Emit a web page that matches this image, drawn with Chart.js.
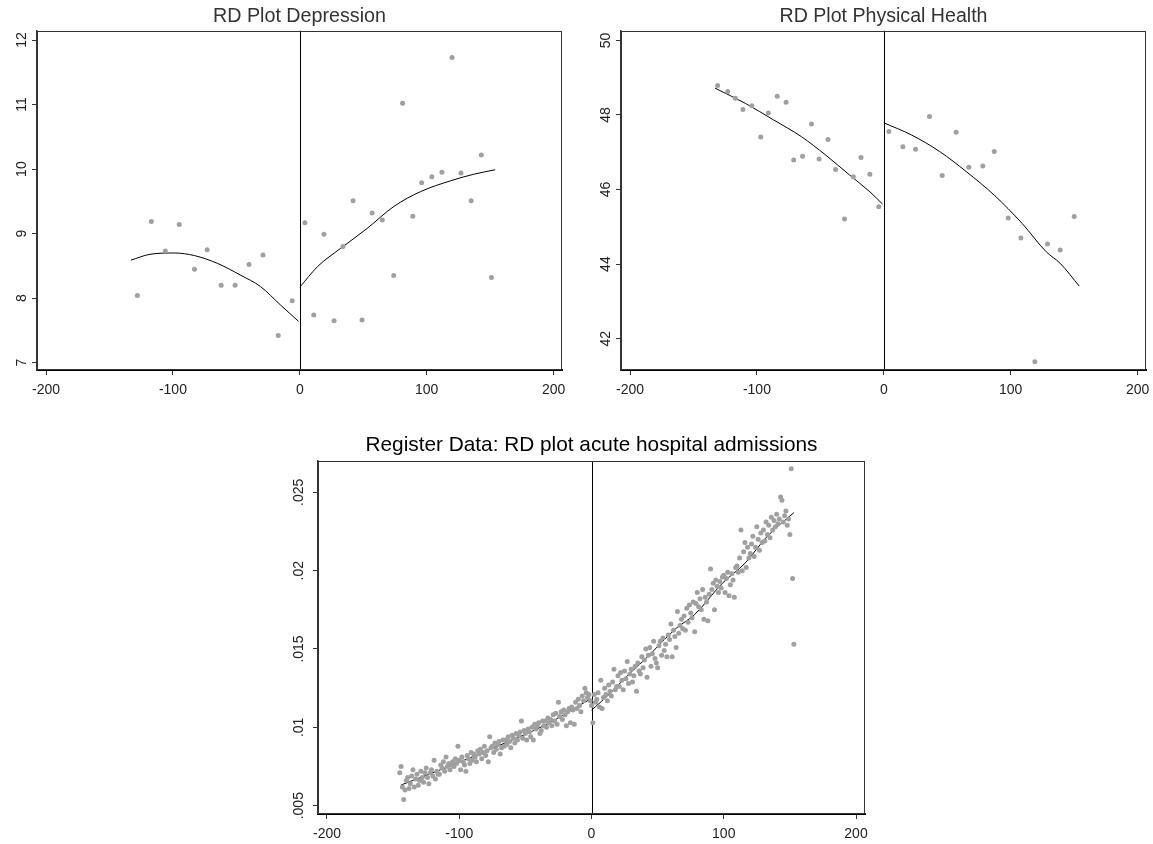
<!DOCTYPE html>
<html>
<head>
<meta charset="utf-8">
<script src="https://cdn.jsdelivr.net/npm/chart.js@4.4.1/dist/chart.umd.min.js"></script>
<style>
  body { margin: 0; background: #fff; }
  .box { position: absolute; }
</style>
</head>
<body>
<div class="box" style="left:0;top:0;width:575px;height:400px"><canvas id="dep" width="575" height="400"></canvas></div>
<div class="box" style="left:575px;top:0;width:578px;height:400px"><canvas id="phys" width="578" height="400"></canvas></div>
<div class="box" style="left:270px;top:420px;width:610px;height:424px"><canvas id="adm" width="610" height="424"></canvas></div>
<script>
// ---- Depression (binned means) ----
const depLeftX = [-128, -117, -106, -95, -83, -73, -62, -51, -40, -29, -17, -6];
const depLeftY = [8.04, 9.19, 8.73, 9.14, 8.45, 8.75, 8.2, 8.2, 8.52, 8.67, 7.42, 7.96];
const depRightX = [4, 11, 19, 27, 34, 42, 49, 57, 65, 74, 81, 89, 96, 104, 112, 120, 127, 135, 143, 151];
const depRightY = [9.17, 7.74, 8.99, 7.65, 8.8, 9.51, 7.66, 9.32, 9.21, 8.35, 11.02, 9.27, 9.79, 9.88, 9.95, 11.73, 9.94, 9.51, 10.22, 8.32];
// fitted curves
const depFitLeftX = [-133, -118, -99, -83, -65, -47, -31, -15, -1];
const depFitLeftY = [8.59, 8.68, 8.7, 8.66, 8.54, 8.36, 8.18, 7.89, 7.64];
const depFitRightX = [0, 14, 32, 53, 74, 95, 119, 137, 154];
const depFitRightY = [8.17, 8.49, 8.77, 9.08, 9.42, 9.65, 9.82, 9.92, 9.99];
const depTicksY = [7, 8, 9, 10, 11, 12];

// ---- Physical health ----
const physLeftX = [-131, -123, -117, -111, -104, -97, -91, -84, -77, -71, -64, -57, -51, -44, -38, -31, -24, -18, -11, -4];
const physLeftY = [48.79, 48.63, 48.45, 48.15, 48.25, 47.41, 48.05, 48.5, 48.34, 46.79, 46.89, 47.76, 46.82, 47.34, 46.54, 45.21, 46.34, 46.86, 46.41, 45.54];
const physRightX = [4, 15, 25, 36, 46, 57, 67, 78, 87, 98, 108, 119, 129, 139, 150];
const physRightY = [47.56, 47.15, 47.08, 47.96, 46.38, 47.54, 46.6, 46.63, 47.02, 45.24, 44.7, 41.38, 44.54, 44.38, 45.28];
const physFitLeftX = [-133, -109, -87, -65, -46, -27, -11, -1];
const physFitLeftY = [48.72, 48.31, 47.87, 47.42, 46.93, 46.39, 45.94, 45.61];
const physFitRightX = [0, 22, 44, 65, 87, 109, 128, 139, 154];
const physFitRightY = [47.79, 47.46, 47.02, 46.48, 45.85, 45.09, 44.33, 44.02, 43.41];
const physTicksY = [42, 44, 46, 48, 50];

// ---- Register data: one value per day, left from day -145, right from day 0 ----
const admLeftStart = -145;
const admLeftY = [
  0.0071, 0.0075, 0.0062, 0.0054, 0.0060, 0.0066, 0.0068, 0.0061, 0.0064, 0.0069,
  0.0073, 0.0062, 0.0067, 0.0070, 0.0063, 0.0066, 0.0072, 0.0068, 0.0065, 0.0071,
  0.0074, 0.0068, 0.0064, 0.0071, 0.0073, 0.0069, 0.0079, 0.0067, 0.0072, 0.0070,
  0.0070, 0.0076, 0.0074, 0.0078, 0.0072, 0.0081, 0.0075, 0.0077, 0.0073, 0.0076,
  0.0078, 0.0075, 0.0080, 0.0077, 0.0088, 0.0079, 0.0073, 0.0081, 0.0078, 0.0076,
  0.0072, 0.0082, 0.0080, 0.0077, 0.0084, 0.0079, 0.0083, 0.0081, 0.0078, 0.0085,
  0.0083, 0.0086, 0.0080, 0.0084, 0.0088, 0.0082, 0.0085, 0.0078, 0.0094, 0.0087,
  0.0088, 0.0084, 0.0090, 0.0086, 0.0089, 0.0091, 0.0083, 0.0087, 0.0092, 0.0088,
  0.0092, 0.0089, 0.0094, 0.0091, 0.0087, 0.0095, 0.0093, 0.0090, 0.0096, 0.0092,
  0.0095, 0.0097, 0.0104, 0.0093, 0.0098, 0.0096, 0.0092, 0.0099, 0.0097, 0.0094,
  0.0100, 0.0092, 0.0102, 0.0099, 0.0101, 0.0103, 0.0096, 0.0098, 0.0104, 0.0101,
  0.0104, 0.0100, 0.0106, 0.0103, 0.0105, 0.0101, 0.0108, 0.0104, 0.0109, 0.0102,
  0.0116, 0.0107, 0.0110, 0.0105, 0.0111, 0.0108, 0.0101, 0.0110, 0.0112, 0.0103,
  0.0113, 0.0111, 0.0102, 0.0116, 0.0112, 0.0118, 0.0114, 0.0110, 0.0120, 0.0117,
  0.0125, 0.0122, 0.0119, 0.0121, 0.0117
];
const admRightStart = 0;
const admRightY = [
  0.0114, 0.0103, 0.0121, 0.0116, 0.0118, 0.0122, 0.0113, 0.0130, 0.0112, 0.0119,
  0.0125, 0.0121, 0.0117, 0.0127, 0.0123, 0.0120, 0.0129, 0.0137, 0.0124, 0.0126,
  0.0133, 0.0126, 0.0135, 0.0130, 0.0124, 0.0136, 0.0131, 0.0142, 0.0128, 0.0134,
  0.0137, 0.0129, 0.0133, 0.0139, 0.0123, 0.0141, 0.0136, 0.0134, 0.0145, 0.0138,
  0.0143, 0.0150, 0.0132, 0.0146, 0.0151, 0.0139, 0.0147, 0.0155, 0.0144, 0.0141,
  0.0138, 0.0152, 0.0155, 0.0146, 0.0157, 0.0149, 0.0153, 0.0145, 0.0159, 0.0156,
  0.0166, 0.0145, 0.0162, 0.0158, 0.0151, 0.0174, 0.0160, 0.0165, 0.0169, 0.0163,
  0.0171, 0.0162, 0.0176, 0.0167, 0.0178, 0.0173, 0.0170, 0.0180, 0.0161, 0.0179,
  0.0186, 0.0177, 0.0182, 0.0175, 0.0188, 0.0169, 0.0183, 0.0180, 0.0168, 0.0185,
  0.0201, 0.0188, 0.0192, 0.0175, 0.0194, 0.0190, 0.0186, 0.0193, 0.0189, 0.0196,
  0.0197, 0.0186, 0.0195, 0.0199, 0.0184, 0.0191, 0.0198, 0.0194, 0.0183, 0.0202,
  0.0203, 0.0199, 0.0208, 0.0226, 0.0200, 0.0212, 0.0218, 0.0202, 0.0215, 0.0208,
  0.0211, 0.0217, 0.0222, 0.0209, 0.0215, 0.0228, 0.0220, 0.0213, 0.0224, 0.0218,
  0.0226, 0.0219, 0.0231, 0.0223, 0.0229, 0.0221, 0.0234, 0.0226, 0.0232, 0.0228,
  0.0236, 0.0230, 0.0233, 0.0247, 0.0245, 0.0231, 0.0235, 0.0238, 0.0229, 0.0233,
  0.0223, 0.0265, 0.0195, 0.0153
];
const admFitLeftX = [-144, -107, -73, -35, -1];
const admFitLeftY = [0.00632, 0.00753, 0.00873, 0.01015, 0.01180];
const admFitRightX = [0, 3, 12, 29, 40, 64, 78, 99, 116, 133, 153];
const admFitRightY = [0.0111, 0.01132, 0.0120, 0.01345, 0.0143, 0.01632, 0.0172, 0.0192, 0.02047, 0.0222, 0.0237];
const admTicksY = [0.005, 0.01, 0.015, 0.02, 0.025];

const ticksX = [-200, -100, 0, 100, 200];
const cutoff = 0;

const FONT = "'Liberation Sans', Arial, sans-serif";
const DOT = "#a0a0a0";

const toPoints = (xs, ys) => xs.map((x, i) => ({ x: x, y: ys[i] }));
const dayPoints = (start, ys) => ys.map((y, i) => ({ x: start + i, y: y }));

// box round the plot + vertical line at the cutoff
const framePlugin = {
  id: "frame",
  beforeDatasetsDraw(chart) {
    const { ctx, chartArea: a, scales } = chart;
    const px = Math.round(scales.x.getPixelForValue(cutoff)) + 0.5;
    ctx.save();
    ctx.strokeStyle = "#000";
    ctx.lineWidth = 1;
    ctx.beginPath();
    ctx.moveTo(px, a.top);
    ctx.lineTo(px, a.bottom);
    ctx.stroke();
    ctx.restore();
  },
  afterDraw(chart) {
    const { ctx, chartArea: a } = chart;
    ctx.save();
    ctx.strokeStyle = "#333";
    ctx.lineWidth = 1;
    ctx.strokeRect(Math.round(a.left) + 0.5, Math.round(a.top) + 0.5, Math.round(a.width) - 1, Math.round(a.height) - 1);
    ctx.restore();
  },
};

const makeChart = (id, cfg) => {
  const scatter = (data) => ({
    data: data,
    showLine: false,
    pointRadius: 2.5,
    pointHoverRadius: 2.5,
    pointBackgroundColor: DOT,
    pointBorderWidth: 0,
  });
  const fit = (data) => ({
    data: data,
    showLine: true,
    borderColor: "#000",
    borderWidth: 1,
    pointRadius: 0,
    cubicInterpolationMode: "monotone",
  });

  return new Chart(document.getElementById(id), {
    type: "scatter",
    data: {
      datasets: [
        scatter(cfg.left),
        scatter(cfg.right),
        fit(cfg.fitLeft),
        fit(cfg.fitRight),
      ],
    },
    options: {
      responsive: false,
      animation: false,
      events: [],
      layout: { padding: { left: 0, right: cfg.padRight, top: 0, bottom: 0 } },
      plugins: {
        legend: { display: false },
        tooltip: { enabled: false },
        title: {
          display: true,
          fullSize: false,
          text: cfg.title,
          color: cfg.titleColor,
          font: { family: FONT, size: cfg.titleSize, weight: "normal" },
          padding: cfg.titlePad,
        },
      },
      scales: {
        x: {
          type: "linear",
          min: cfg.xMin,
          max: cfg.xMax,
          afterBuildTicks: (s) => { s.ticks = ticksX.map((v) => ({ value: v })); },
          afterFit: (s) => {
            s.height = 30;
            // labels may hang past the plot edge, keep the plot box where it is
            s.paddingLeft = 0;
            s.paddingRight = 0;
          },
          border: { display: true, color: "#000", width: 2 },
          grid: { drawOnChartArea: false, drawTicks: true, tickLength: 5, tickColor: "#333" },
          ticks: { color: "#222", font: { family: FONT, size: 14 }, padding: 6.5, maxRotation: 0, autoSkip: false },
        },
        y: {
          type: "linear",
          min: cfg.yMin,
          max: cfg.yMax,
          afterBuildTicks: (s) => { s.ticks = cfg.ticksY.map((v) => ({ value: v })); },
          afterFit: (s) => { s.width = cfg.yWidth; },
          border: { display: true, color: "#333", width: 1.5 },
          grid: { drawOnChartArea: false, drawTicks: true, tickLength: 5, tickColor: "#333" },
          ticks: {
            color: "#222",
            font: { family: FONT, size: 14 },
            padding: cfg.yPad,
            minRotation: 90,
            maxRotation: 90,
            crossAlign: "center",
            autoSkip: false,
            callback: cfg.tickFormat,
          },
        },
      },
    },
    plugins: [framePlugin],
  });
};

makeChart("dep", {
  title: "RD Plot Depression",
  titleColor: "#333",
  titleSize: 19.7,
  titlePad: { top: 4.5, bottom: 2.6 },
  left: toPoints(depLeftX, depLeftY),
  right: toPoints(depRightX, depRightY),
  fitLeft: toPoints(depFitLeftX, depFitLeftY),
  fitRight: toPoints(depFitRightX, depFitRightY),
  xMin: -207.1, xMax: 206.6,
  yMin: 6.887, yMax: 12.144,
  ticksY: depTicksY,
  yWidth: 37,
  yPad: 2,
  padRight: 13,
  tickFormat: (v) => String(v),
});

makeChart("phys", {
  title: "RD Plot Physical Health",
  titleColor: "#333",
  titleSize: 19.6,
  titlePad: { top: 4.5, bottom: 2.7 },
  left: toPoints(physLeftX, physLeftY),
  right: toPoints(physRightX, physRightY),
  fitLeft: toPoints(physFitLeftX, physFitLeftY),
  fitRight: toPoints(physFitRightX, physFitRightY),
  xMin: -207.1, xMax: 206.6,
  yMin: 41.16, yMax: 50.26,
  ticksY: physTicksY,
  yWidth: 46,
  yPad: 2,
  padRight: 7,
  tickFormat: (v) => String(v),
});

makeChart("adm", {
  title: "Register Data: RD plot acute hospital admissions",
  titleColor: "#000",
  titleSize: 20.8,
  titlePad: { top: 12.5, bottom: 3.5 },
  left: dayPoints(admLeftStart, admLeftY),
  right: dayPoints(admRightStart, admRightY),
  fitLeft: toPoints(admFitLeftX, admFitLeftY),
  fitRight: toPoints(admFitRightX, admFitRightY),
  xMin: -206.8, xMax: 206.8,
  yMin: 0.00447, yMax: 0.027,
  ticksY: admTicksY,
  yWidth: 48,
  yPad: 0,
  padRight: 15,
  tickFormat: (v) => String(v).replace(/^0/, ""),
});
</script>
</body>
</html>
